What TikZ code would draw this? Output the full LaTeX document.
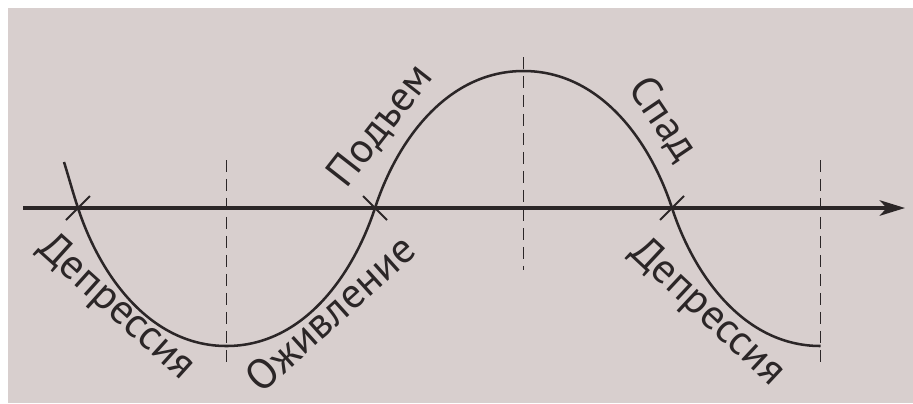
\documentclass[tikz,border=0pt]{standalone}
\usepackage{fontspec}
\setmainfont{PT Sans}
\usetikzlibrary{arrows.meta}
\definecolor{paper}{HTML}{D8CFCE}
\definecolor{ink}{HTML}{2B2627}
\begin{document}
\begin{tikzpicture}[x=0.025cm,y=-0.025cm,
  axisline/.style={ink,line width=2.5pt},
  wave/.style={ink,line width=1.8pt},
  guide/.style={ink,line width=1.3pt,dash pattern=on 8.5pt off 5pt},
  tick/.style={ink,line width=1.4pt},
  phase/.style={text=ink,font=\fontsize{30}{36}\selectfont,inner sep=0pt}]
  \useasboundingbox (0,0) rectangle (913,403);
  \fill[paper] (8,8) rectangle (913,403);
  \coordinate (o) at (23,208);
  \coordinate (end) at (905,208);
  \coordinate (c1) at (78,208);
  \coordinate (c2) at (375,208);
  \coordinate (c3) at (672,208);
  \coordinate (low1) at (226.5,346);
  \coordinate (top) at (523.5,71);
  \coordinate (low2) at (820.5,346);
  % dashed guides
  \draw[guide] (226.5,160) -- (226.5,362);
  \draw[guide] (523.5,57) -- (523.5,270);
  \draw[guide] (820.5,160) -- (820.5,362);
  % time axis
  \draw[axisline,-{Stealth[length=18pt,width=11pt,inset=5pt]}] (o) -- (end);
  % the cycle
  \draw[wave] (64,162) .. controls (69,178) and (73,193) .. (c1)
    .. controls (100.6,277) and (151,346) .. (low1)
    .. controls (302,346) and (352.4,277) .. (c2)
    .. controls (397.6,139) and (448,71) .. (top)
    .. controls (599,71) and (649.4,139) .. (c3)
    .. controls (694.6,277) and (745,346) .. (low2);
  \draw[tick] (c1) ++(-12,12) -- ++(24,-24);
  \draw[tick] (c2) ++(-12,-12) -- ++(24,24);
  \draw[tick] (c3) ++(-12,12) -- ++(24,-24);
  % phases
  \node[phase,rotate=-42] (dep1) at (116,308) {Депрессия};
  \node[phase,rotate=42] (ozh) at (330,313) {Оживление};
  \node[phase,rotate=52] (pod) at (381,126) {Подъем};
  \node[phase,rotate=-56] (spad) at (663,119) {Спад};
  \node[phase,rotate=-43] (dep2) at (707,313) {Депрессия};
\end{tikzpicture}
\end{document}
